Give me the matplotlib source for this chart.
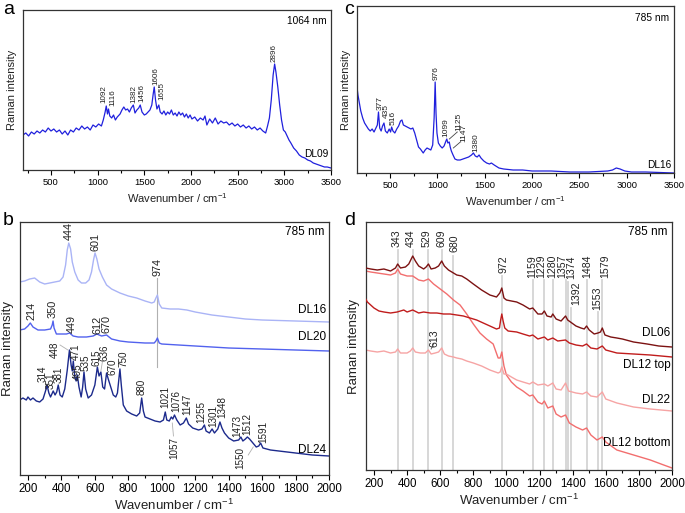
import matplotlib
matplotlib.use("Agg")
import matplotlib.pyplot as plt
from matplotlib.ticker import MultipleLocator

plt.rcParams['font.family'] = ['Liberation Sans', 'DejaVu Sans']
plt.rcParams['mathtext.default'] = 'regular'

# ---------------- Panel a : DL09, 1064 nm ----------------
a_x = [200,230,260,290,320,350,380,410,440,470,500,530,560,590,620,650,680,710,740,770,800,830,860,890,920,950,980,1010,1040,1060,1080,1092,1105,1116,1130,1150,1170,1190,1210,1240,1260,1280,1300,1320,1340,1360,1382,1400,1420,1440,1456,1475,1500,1520,1540,1560,1580,1595,1606,1620,1635,1655,1670,1690,1710,1730,1750,1770,1790,1810,1830,1850,1870,1890,1910,1930,1950,1970,1990,2010,2040,2070,2100,2130,2150,2170,2200,2230,2260,2290,2320,2350,2380,2410,2440,2470,2500,2530,2560,2590,2620,2650,2680,2710,2740,2770,2800,2820,2840,2860,2880,2896,2910,2930,2950,2970,2990,3010,3030,3050,3070,3100,3130,3160,3190,3220,3250,3280,3310,3340,3370,3400,3430,3460,3500]
a_y = [35,37,34,38,36,39,37,40,38,42,39,41,38,40,36,39,35,40,38,42,40,44,41,43,40,45,43,46,44,50,58,64,56,61,54,52,55,50,53,56,60,63,60,61,58,62,65,57,60,62,65,58,55,56,58,60,65,76,83,70,61,65,58,56,59,55,58,56,60,55,57,54,58,55,57,53,56,52,55,51,53,49,52,50,54,45,51,47,52,46,49,47,48,45,47,44,46,43,45,42,44,41,43,40,42,39,37,44,52,70,95,106,98,83,65,50,40,38,34,30,27,22,19,15,13,12,10,9,7,6,5,4,3,3,2]
a_peaks = ["1092", "1116", "1382", "1456", "1606", "1655", "2896"]
a_peak_x = [1068, 1164, 1389, 1475, 1625, 1689, 2889]
a_peak_y = [67, 64, 67, 68, 85, 70, 108]

# ---------------- Panel c : DL16, 785 nm ----------------
c_x = [150,160,175,190,210,230,250,270,290,310,330,350,365,377,390,405,420,435,450,470,490,505,516,530,550,570,590,610,625,640,660,680,700,720,740,760,780,800,820,850,870,890,910,930,950,965,976,985,995,1010,1030,1050,1070,1090,1099,1110,1125,1135,1147,1165,1185,1210,1240,1270,1300,1330,1360,1380,1400,1420,1440,1460,1490,1520,1550,1570,1600,1650,1700,1800,1900,2000,2200,2400,2600,2800,2850,2890,2930,2980,3050,3200,3500]
c_y = [86,78,70,62,55,50,47,44,42,44,41,45,48,61,45,42,47,50,42,40,44,41,46,42,40,44,47,52,53,48,47,46,45,44,45,40,33,26,24,20,23,25,24,23,28,55,91,60,40,30,27,25,27,32,34,30,31,26,22,18,14,13,13,14,15,16,18,20,17,16,18,15,12,10,9,10,8,5,4,3,3,2,2,1,1,2,3,5,4,2,1,1,0]
c_peaks = ["377", "435", "516", "976", "1099", "1125", "1147", "1380"]
c_peak_x = [394, 457, 532, 988, 1094, 1221, 1274, 1401]
c_peak_y = [63, 55, 48, 93, 36, 42, 31, 21]

# ---------------- Panel b : 785 nm ----------------
b16_x = [150,180,210,240,270,300,330,360,390,410,425,435,444,455,465,480,500,520,545,565,580,592,601,612,625,645,670,700,750,800,850,900,940,955,965,974,985,1000,1050,1100,1150,1200,1300,1400,1500,1600,1800,2000]
b16_y = [193,194,196,197,193,191,192,193,194,198,210,225,232,226,213,203,195,192,192,195,203,215,222,216,206,198,190,186,182,179,177,174,172,173,177,180,171,167,166,166,165,163,160,158,156,155,154,153]
b20_x = [150,180,200,214,230,260,300,335,345,350,356,370,400,430,449,470,500,550,590,612,640,670,700,750,800,900,955,965,974,985,1000,1100,1200,1400,1600,1800,2000]
b20_y = [145,146,149,152,148,145,145,146,150,154,147,141,141,141,142,139,138,138,139,141,139,140,136,134,133,132,132,134,137,132,131,130,129,127,126,125,124]
b24_x = [150,170,190,200,215,230,250,270,290,305,314,325,335,351,362,372,381,392,405,420,435,448,458,465,471,480,488,495,505,518,527,535,545,560,580,600,615,625,636,647,658,670,680,695,710,725,735,743,750,758,770,790,820,850,868,880,890,900,930,960,990,1010,1021,1030,1045,1057,1066,1076,1090,1110,1130,1147,1160,1185,1220,1240,1255,1265,1285,1301,1315,1335,1348,1360,1375,1400,1430,1460,1473,1485,1500,1512,1525,1540,1550,1565,1580,1591,1605,1650,1700,1800,1900,2000]
b24_y = [75,77,75,78,75,77,74,73,76,84,90,82,78,84,80,83,90,80,78,86,105,125,110,104,114,98,94,100,88,78,88,103,86,77,80,90,108,99,103,88,86,102,96,88,80,78,82,95,106,90,70,64,61,59,62,77,64,58,56,54,53,55,63,55,54,58,56,60,55,50,52,57,51,47,45,46,50,44,42,46,42,46,53,47,42,37,34,35,38,34,36,38,36,33,31,28,29,32,27,25,24,22,20,19]
b16_peaks = ["444", "601", "974"]
b16_peak_x = [444, 601, 974]
b16_peak_y = [235, 224, 199]
b20_peaks = ["214", "350", "449", "612", "670"]
b20_peak_x = [224, 350, 463, 613, 672]
b20_peak_y = [155, 157, 142, 141, 142]
b24_peaks = ["314", "351", "381", "448", "471", "495", "535", "615", "636", "670", "750", "880",
             "1021", "1076", "1147", "1255", "1301", "1348", "1473", "1512", "1591"]
b24_peak_x = [286, 335, 385, 360, 484, 496, 542, 609, 655, 705, 769, 882,
              1020, 1084, 1152, 1238, 1305, 1362, 1451, 1511, 1607]
b24_peak_y = [93, 86, 92, 117, 115, 95, 104, 109, 114, 100, 108, 80,
              67, 63, 60, 52, 48, 57, 38, 40, 32]
b24_low_peaks = ["1057", "1550"]
b24_low_x = [1074, 1469]
b24_low_y = [38, 28]

# ---------------- Panel d : 785 nm ----------------
d06_x = [150,180,220,260,300,330,343,360,390,410,425,434,450,470,500,515,529,545,570,590,609,625,650,680,700,730,760,800,850,900,940,960,972,985,1000,1030,1062,1100,1140,1159,1190,1215,1229,1245,1270,1280,1300,1330,1357,1370,1395,1420,1450,1470,1484,1500,1530,1553,1568,1579,1595,1630,1667,1700,1768,1850,1920,2000]
d06_y = [202,201,200,201,199,202,206,202,203,206,211,214,209,204,201,203,206,201,202,204,209,204,200,197,195,194,191,186,180,175,173,177,182,172,170,169,168,165,161,162,156,156,159,154,153,156,151,149,154,150,147,144,142,141,144,140,136,137,138,142,135,133,132,131,128,126,124,123]
d12t_x = [150,160,180,200,230,260,300,340,380,400,434,470,500,540,580,620,660,700,740,780,820,860,900,940,958,965,972,980,990,1010,1062,1100,1140,1159,1190,1229,1250,1280,1310,1357,1380,1420,1460,1484,1510,1547,1579,1600,1667,1768,1869,2000]
d12t_y = [171,168,165,162,159,158,157,158,160,158,160,157,158,157,157,156,156,155,154,152,150,147,144,141,142,150,156,149,142,139,138,136,134,135,131,133,130,132,129,130,127,125,124,126,122,121,124,120,117,116,115,113]
d22_x = [150,180,220,260,300,330,343,360,400,420,434,450,480,510,529,545,570,590,609,625,650,680,700,730,760,800,850,900,950,962,972,985,1000,1030,1062,1100,1140,1159,1190,1229,1250,1280,1300,1330,1357,1375,1420,1460,1484,1510,1547,1579,1600,1667,1768,1869,2000]
d22_y = [120,119,118,119,117,118,121,117,117,119,122,118,117,117,120,116,117,118,122,116,114,113,112,111,109,107,104,100,97,98,103,96,96,93,90,88,86,88,85,86,84,87,81,80,87,79,77,76,78,74,73,78,71,67,63,61,59]
d12b_x = [150,180,220,260,300,330,343,360,400,434,470,500,529,560,600,640,680,720,760,800,840,880,920,950,962,972,985,1000,1030,1062,1100,1140,1159,1190,1215,1229,1250,1280,1300,1330,1357,1380,1420,1460,1484,1510,1547,1579,1600,1667,1768,1869,1950,2000]
d12b_y = [199,198,197,196,195,197,201,196,194,194,190,189,191,186,181,176,170,165,156,146,137,131,126,112,112,118,104,95,88,83,79,74,75,68,66,69,62,64,56,53,55,47,43,40,42,35,30,33,28,20,15,10,5,2]
d_lines = [343, 434, 529, 609, 680, 972, 1159, 1229, 1280, 1357, 1374, 1392, 1484, 1553, 1579]
d_line_top = [220, 220, 220, 220, 214, 194, 190, 190, 190, 190, 188, 162, 190, 158, 190]
d_peaks = ["343", "434", "529", "609", "680", "972", "1159", "1229", "1280", "1357", "1374", "1392", "1484", "1553", "1579"]
d_peak_x = [339, 425, 520, 607, 687, 985, 1153, 1213, 1274, 1334, 1391, 1421, 1490, 1547, 1597]
d_peak_y = [223, 223, 223, 223, 218, 197, 192, 192, 192, 192, 191, 165, 192, 160, 192]

BLUE = '#2020dd'
W, H = 685, 513
fig = plt.figure(figsize=(W / 100, H / 100), dpi=100)

def add_ax(l, t, r, b):
    return fig.add_axes([l / W, 1 - b / H, (r - l) / W, (b - t) / H])

def style(ax, xlim, ylim, major, minor, fs_tick, fs_lab, labpad):
    ax.set_xlim(*xlim)
    ax.set_ylim(*ylim)
    ax.set_yticks([])
    ax.xaxis.set_major_locator(MultipleLocator(major))
    ax.xaxis.set_minor_locator(MultipleLocator(minor))
    ax.tick_params(axis='x', which='major', direction='out', length=3.5, width=0.8,
                   labelsize=fs_tick, pad=2)
    ax.tick_params(axis='x', which='minor', direction='out', length=2, width=0.8)
    for s in ax.spines.values():
        s.set_linewidth(0.9)
        s.set_color('#333333')
    ax.set_xlabel('Wavenumber / cm$^{-1}$', fontsize=fs_lab, labelpad=labpad, color='#222222')
    ax.set_ylabel('Raman intensity', fontsize=fs_lab, labelpad=4, color='#222222')

# ---- a ----
ax = add_ax(23, 10, 331, 170)
ax.plot(a_x, a_y, color=BLUE, lw=0.9)
style(ax, (200, 3500), (0, 160), 500, 250, 6.8, 8, 3)
for s, x, y in zip(a_peaks, a_peak_x, a_peak_y):
    ax.text(x, y, s, rotation=90, ha='center', va='bottom', fontsize=5.8, color='#222222')
ax.text(0.985, 0.96, '1064 nm', transform=ax.transAxes, ha='right', va='top', fontsize=7.3)
ax.text(3470, 11, 'DL09', ha='right', va='bottom', fontsize=7.3)

# ---- c ----
ax = add_ax(357, 6, 674, 173)
ax.plot(c_x, c_y, color=BLUE, lw=0.9)
style(ax, (150, 3500), (0, 167), 500, 250, 6.8, 8, 3)
for s, x, y in zip(c_peaks, c_peak_x, c_peak_y):
    ax.text(x, y, s, rotation=90, ha='center', va='bottom', fontsize=6, color='#222222')
ax.plot([1126, 1210], [34, 41], color='#444444', lw=0.6)
ax.plot([1168, 1242], [25, 31], color='#444444', lw=0.6)
ax.text(0.985, 0.96, '785 nm', transform=ax.transAxes, ha='right', va='top', fontsize=7.3)
ax.text(3470, 3, 'DL16', ha='right', va='bottom', fontsize=7.3)

# ---- b ----
ax = add_ax(19.6, 222, 329, 475)
ax.plot([974, 974], [108, 197], color='#b0b0b0', lw=0.8)
ax.plot(b16_x, b16_y, color='#aab4f6', lw=1.0)
ax.plot(b20_x, b20_y, color='#5262ee', lw=1.0)
ax.plot(b24_x, b24_y, color='#1c2a8c', lw=1.0)
style(ax, (150, 2000), (0, 253), 200, 100, 8.3, 9.5, 2)
for s, x, y in zip(b16_peaks + b20_peaks, b16_peak_x + b20_peak_x, b16_peak_y + b20_peak_y):
    ax.text(x, y, s, rotation=90, ha='center', va='bottom', fontsize=7.8, color='#222222')
for s, x, y in zip(b24_peaks, b24_peak_x, b24_peak_y):
    ax.text(x, y, s, rotation=90, ha='center', va='bottom', fontsize=7.1, color='#222222')
for s, x, y in zip(b24_low_peaks, b24_low_x, b24_low_y):
    ax.text(x, y, s, rotation=90, ha='center', va='top', fontsize=7.1, color='#222222')
ax.plot([392, 439], [130, 125], color='#b0b0b0', lw=0.6)
ax.plot([645, 636], [113, 104], color='#b0b0b0', lw=0.6)
ax.plot([1063, 1070], [52, 39], color='#b0b0b0', lw=0.6)
ax.plot([1517, 1547], [20, 28], color='#b0b0b0', lw=0.6)
ax.text(0.985, 0.985, '785 nm', transform=ax.transAxes, ha='right', va='top', fontsize=8.5)
ax.text(1985, 165, 'DL16', ha='right', va='center', fontsize=8.5)
ax.text(1985, 138, 'DL20', ha='right', va='center', fontsize=8.5)
ax.text(1985, 25, 'DL24', ha='right', va='center', fontsize=8.5)

# ---- d ----
ax = add_ax(365.7, 222, 672, 470)
for x, t in zip(d_lines, d_line_top):
    ax.plot([x, x], [0, t], color='#d4d4d4', lw=1.3, zorder=1)
ax.plot(d12b_x, d12b_y, color='#f26e6e', lw=1.0, zorder=2)
ax.plot(d22_x, d22_y, color='#f6a4a4', lw=1.0, zorder=2)
ax.plot(d12t_x, d12t_y, color='#c01c1c', lw=1.0, zorder=3)
ax.plot(d06_x, d06_y, color='#7c1212', lw=1.0, zorder=3)
style(ax, (150, 2000), (0, 248), 200, 100, 8.3, 9.5, 2)
for s, x, y in zip(d_peaks, d_peak_x, d_peak_y):
    ax.text(x, y, s, rotation=90, ha='center', va='bottom', fontsize=7.6, color='#222222')
ax.text(568, 123, '613', rotation=90, ha='center', va='bottom', fontsize=7.6, color='#222222')
ax.plot([545, 560], [121, 126], color='#555555', lw=0.6)
ax.text(0.985, 0.985, '785 nm', transform=ax.transAxes, ha='right', va='top', fontsize=8.5)
ax.text(1990, 137, 'DL06', ha='right', va='center', fontsize=8.5)
ax.text(1990, 105, 'DL12 top', ha='right', va='center', fontsize=8.5)
ax.text(1990, 70, 'DL22', ha='right', va='center', fontsize=8.5)
ax.text(1990, 27, 'DL12 bottom', ha='right', va='center', fontsize=8.5)

# panel letters
fig.text(3 / W, 1 - 1 / H, 'a', ha='left', va='top', fontsize=14)
fig.text(344 / W, 1 - 1 / H, 'c', ha='left', va='top', fontsize=14)
fig.text(3 / W, 1 - 212 / H, 'b', ha='left', va='top', fontsize=14)
fig.text(344 / W, 1 - 212 / H, 'd', ha='left', va='top', fontsize=14)

fig.savefig('out.png', dpi=100)
